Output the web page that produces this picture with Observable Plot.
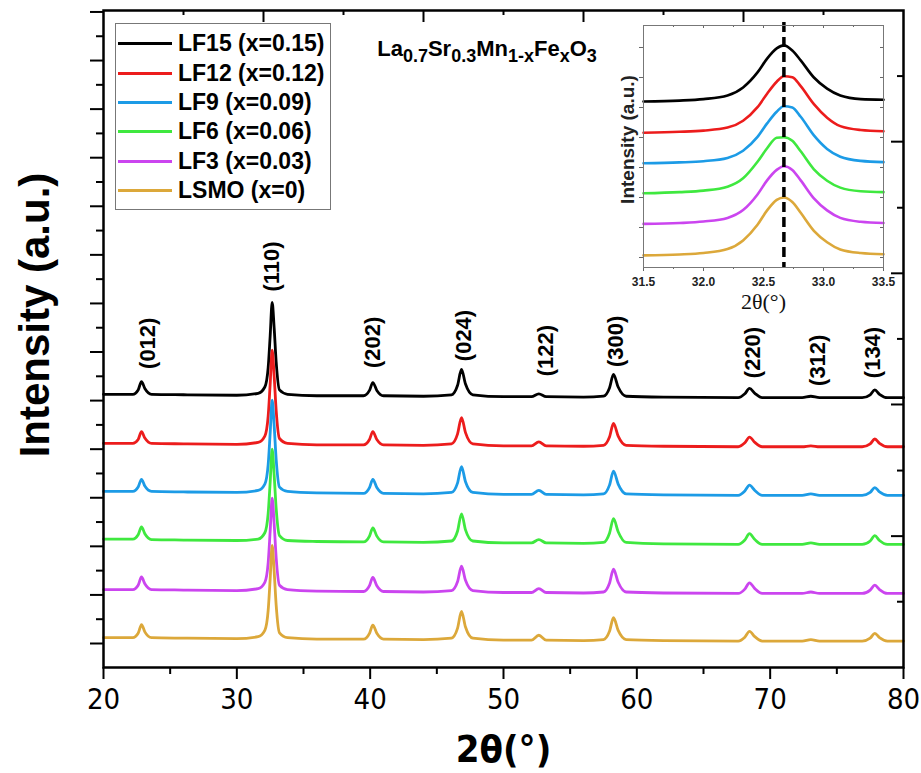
<!DOCTYPE html>
<html>
<head>
<meta charset="utf-8">
<script src="https://cdn.jsdelivr.net/npm/d3@7"></script>
<script src="https://cdn.jsdelivr.net/npm/@observablehq/plot@0.6"></script>
<style>
  body { margin: 0; background: #fff; font-family: "Liberation Sans", Arial, sans-serif; }
  #wrap { position: relative; width: 921px; height: 773px; }
  #main { position: absolute; left: 0; top: 0; }
  #inset { position: absolute; left: 600px; top: 0; }
  #legend { position: absolute; left: 115px; top: 23px; width: 216px; height: 187px; box-sizing: border-box;
            border: 1px solid #777; padding-top: 5px; background: #fff; }
  .lrow { display: flex; align-items: center; height: 29.4px; }
  .lsw { display: inline-block; width: 54px; height: 3px; margin-left: 2px; }
  .ltx { margin-left: 6px; font-size: 23px; font-weight: bold; color: #000; white-space: nowrap; }
  #formula { position: absolute; left: 356px; top: 36px; width: 262px; text-align: center;
             font-size: 22px; font-weight: bold; color: #000; white-space: nowrap; }
  #formula sub { font-size: 18px; vertical-align: -0.35em; line-height: 0; }
</style>
</head>
<body>
<div id="wrap">
  <div id="main"></div>
  <div id="inset"></div>
  <div id="legend"></div>
  <div id="formula">La<sub>0.7</sub>Sr<sub>0.3</sub>Mn<sub>1-x</sub>Fe<sub>x</sub>O<sub>3</sub></div>
</div>
<script>
// ---------------- DATA ----------------
const seriesNames = ["LF15 (x=0.15)", "LF12 (x=0.12)", "LF9 (x=0.09)", "LF6 (x=0.06)", "LF3 (x=0.03)", "LSMO (x=0)"];
const seriesColors = ["#000000", "#ec1c1c", "#1c9be6", "#3fe83f", "#cb45ef", "#dca83a"];
const seriesOffsets = [5.06, 4.05, 3.05, 2.04, 1.03, 0.05];

const twoTheta = [20, 22.2, 22.6, 22.85, 23.1, 23.6, 26, 30,
  31.6, 32.1, 32.35, 32.5, 32.65, 32.8, 32.95, 33.2, 33.8, 36,
  39.5, 39.95, 40.2, 40.5, 41, 44,
  46.1, 46.55, 46.85, 47.15, 47.7, 50,
  52.1, 52.65, 53.2, 56,
  57.5, 57.95, 58.25, 58.6, 59.2, 62,
  67.6, 68.1, 68.45, 68.85, 69.4,
  72.4, 73.05, 73.7,
  76.9, 77.5, 77.85, 78.2, 78.8, 80];

const lf15 = [0.07, 0.07, 0.16, 0.33, 0.19, 0.07, 0.06, 0.05,
  0.09, 0.22, 0.62, 1.27, 1.96, 1.43, 0.74, 0.16, 0.07, 0.04,
  0.04, 0.15, 0.31, 0.15, 0.04, 0.03,
  0.06, 0.25, 0.58, 0.28, 0.06, 0.02,
  0.02, 0.08, 0.02, 0.01,
  0.03, 0.20, 0.48, 0.22, 0.03, 0.01,
  0, 0.08, 0.19, 0.09, 0,
  0, 0.03, 0,
  0, 0.06, 0.16, 0.07, 0, 0];
const lf12 = [0.07, 0.07, 0.15, 0.31, 0.18, 0.07, 0.06, 0.05,
  0.09, 0.22, 0.63, 1.29, 1.99, 1.45, 0.75, 0.17, 0.07, 0.04,
  0.04, 0.15, 0.31, 0.15, 0.04, 0.03,
  0.06, 0.26, 0.60, 0.29, 0.06, 0.02,
  0.02, 0.10, 0.02, 0.01,
  0.03, 0.20, 0.48, 0.22, 0.03, 0.01,
  0, 0.08, 0.20, 0.09, 0,
  0, 0.02, 0,
  0, 0.06, 0.16, 0.07, 0, 0];
const lf9 = [0.08, 0.08, 0.17, 0.33, 0.19, 0.08, 0.07, 0.06,
  0.10, 0.23, 0.63, 1.28, 1.96, 1.43, 0.74, 0.17, 0.08, 0.05,
  0.04, 0.16, 0.33, 0.16, 0.04, 0.03,
  0.06, 0.25, 0.59, 0.28, 0.06, 0.02,
  0.02, 0.10, 0.02, 0.01,
  0.03, 0.21, 0.50, 0.23, 0.03, 0.01,
  0, 0.09, 0.21, 0.10, 0,
  0, 0.03, 0,
  0, 0.06, 0.16, 0.07, 0, 0];
const lf6 = [0.11, 0.11, 0.20, 0.36, 0.22, 0.10, 0.09, 0.08,
  0.11, 0.24, 0.64, 1.28, 1.96, 1.42, 0.74, 0.18, 0.08, 0.06,
  0.05, 0.17, 0.34, 0.17, 0.05, 0.04,
  0.07, 0.27, 0.63, 0.30, 0.07, 0.03,
  0.03, 0.10, 0.03, 0.02,
  0.04, 0.23, 0.53, 0.26, 0.04, 0.01,
  0, 0.09, 0.22, 0.10, 0,
  0, 0.03, 0,
  0, 0.07, 0.18, 0.08, 0, 0];
const lf3 = [0.08, 0.08, 0.17, 0.34, 0.20, 0.08, 0.07, 0.06,
  0.10, 0.23, 0.63, 1.28, 1.96, 1.43, 0.74, 0.17, 0.08, 0.05,
  0.04, 0.16, 0.33, 0.16, 0.04, 0.03,
  0.06, 0.24, 0.56, 0.27, 0.06, 0.02,
  0.02, 0.10, 0.02, 0.01,
  0.03, 0.21, 0.50, 0.23, 0.03, 0.01,
  0, 0.09, 0.22, 0.10, 0,
  0, 0.03, 0,
  0, 0.07, 0.17, 0.08, 0, 0];
const lsmo = [0.07, 0.07, 0.16, 0.34, 0.19, 0.07, 0.06, 0.05,
  0.09, 0.22, 0.63, 1.28, 1.97, 1.43, 0.74, 0.17, 0.07, 0.04,
  0.04, 0.16, 0.33, 0.16, 0.04, 0.03,
  0.06, 0.26, 0.61, 0.29, 0.06, 0.02,
  0.02, 0.12, 0.02, 0.01,
  0.03, 0.20, 0.48, 0.22, 0.03, 0.01,
  0, 0.08, 0.20, 0.09, 0,
  0, 0.03, 0,
  0, 0.06, 0.16, 0.07, 0, 0];
const seriesValues = [lf15, lf12, lf9, lf6, lf3, lsmo];

const peakNames = ["(012)", "(110)", "(202)", "(024)", "(122)", "(300)", "(220)", "(312)", "(134)"];
const peakLabelX = [23.3, 32.6, 40.2, 47.0, 53.15, 58.4, 68.7, 73.6, 77.7];
const peakLabelY = [6.18, 7.76, 6.20, 6.34, 6.03, 6.22, 5.99, 5.83, 5.99];

const xMajorTicks = [20, 30, 40, 50, 60, 70, 80];
const xMinorTicks = [25, 35, 45, 55, 65, 75];
const yMajorTicks = [0, 1, 2, 3, 4, 5, 6, 7, 8, 9, 10, 11, 12, 13];
const yMinorTicks = [0.5, 1.5, 2.5, 3.5, 4.5, 5.5, 6.5, 7.5, 8.5, 9.5, 10.5, 11.5, 12.5];
const topMajorTicks = [32, 44, 56, 68];
const topMinorTicks = [26, 38, 50, 62, 74];
const rightMajorTicks = [2.21, 4.92, 7.62, 10.33];
const rightMinorTicks = [0.86, 3.56, 6.27, 8.97, 11.68];

const xTitle = "2θ(°)";
const yTitle = "Intensity (a.u.)";

// inset
const insetTheta = [31.5, 31.8, 32.0, 32.2, 32.33, 32.45, 32.53, 32.61, 32.67, 32.74, 32.81, 32.92, 33.03, 33.14, 33.31, 33.5];
const insetLF15 = [0, 0.03, 0.08, 0.20, 0.47, 0.97, 1.43, 1.77, 1.87, 1.70, 1.37, 0.80, 0.43, 0.20, 0.08, 0.06];
const insetLF12 = [0, 0.03, 0.07, 0.17, 0.40, 0.85, 1.30, 1.70, 1.88, 1.85, 1.55, 0.95, 0.50, 0.22, 0.09, 0.05];
const insetLF9  = [0, 0.03, 0.07, 0.18, 0.42, 0.88, 1.33, 1.72, 1.90, 1.86, 1.55, 0.93, 0.48, 0.22, 0.08, 0.04];
const insetLF6  = [0, 0.04, 0.09, 0.22, 0.50, 1.05, 1.50, 1.85, 1.87, 1.75, 1.40, 0.80, 0.42, 0.19, 0.07, 0.04];
const insetLF3  = [0, 0.03, 0.08, 0.20, 0.46, 0.98, 1.45, 1.80, 1.92, 1.80, 1.45, 0.85, 0.45, 0.20, 0.07, 0.03];
const insetLSMO = [0, 0.03, 0.08, 0.21, 0.50, 1.02, 1.50, 1.85, 1.93, 1.78, 1.42, 0.82, 0.44, 0.20, 0.08, 0.04];
const insetValues = [insetLF15, insetLF12, insetLF9, insetLF6, insetLF3, insetLSMO];
const insetOffsets = [5.20, 4.16, 3.14, 2.14, 1.12, 0.07];
const insetPeakRef = [32.67];
const insetXMajor = [31.5, 32.0, 32.5, 33.0, 33.5];
const insetXMinor = [31.75, 32.25, 32.75, 33.25];
const insetYTicks = [0, 1, 2, 3, 4, 5, 6, 7];
const insetXTitle = "2θ(°)";
const insetYTitle = "Intensity (a.u.)";

// ---------------- MAIN PLOT ----------------
const sans = "'Liberation Sans', Arial, sans-serif";
const narrow = "'Liberation Sans Narrow', 'Arial Narrow', 'DejaVu Sans Condensed', sans-serif";
const FRAME_W = 800, FRAME_H = 657;

const mainLines = seriesValues.map((vals, i) =>
  Plot.line(twoTheta.map((t, j) => ({t, v: seriesOffsets[i] + vals[j]})),
    {x: "t", y: "v", stroke: seriesColors[i], strokeWidth: 2.8, curve: "monotone-x"}));

const mainPlot = Plot.plot({
  width: 921, height: 773,
  marginLeft: 103, marginRight: 18, marginTop: 10, marginBottom: 106,
  x: {domain: [20, 80]},
  y: {domain: [-0.494, 13.03]},
  style: {background: "transparent", fontFamily: sans, overflow: "visible", color: "#000"},
  marks: [
    ...mainLines,
    Plot.text(peakNames, {x: (d, i) => peakLabelX[i], y: (d, i) => peakLabelY[i], text: d => d,
      rotate: -90, fontSize: 22, fontWeight: "bold", textAnchor: "middle", lineAnchor: "middle", fill: "#000"}),
    Plot.axisX({ticks: xMajorTicks, tickSize: 12, tickPadding: 9, strokeWidth: 2, fontSize: 29,
      fontFamily: narrow, label: null, tickFormat: d => String(d)}),
    Plot.axisX({ticks: xMinorTicks, tickSize: 7, strokeWidth: 2, tickFormat: () => "", label: null}),
    Plot.axisY({ticks: yMajorTicks, tickSize: 13, strokeWidth: 2, tickFormat: () => "", label: null}),
    Plot.axisY({ticks: yMinorTicks, tickSize: 7, strokeWidth: 2, tickFormat: () => "", label: null}),
    Plot.ruleX(topMajorTicks, {strokeWidth: 2, insetBottom: FRAME_H - 12}),
    Plot.ruleX(topMinorTicks, {strokeWidth: 2, insetBottom: FRAME_H - 5}),
    Plot.ruleY(rightMajorTicks, {strokeWidth: 2, insetLeft: FRAME_W - 12}),
    Plot.ruleY(rightMinorTicks, {strokeWidth: 2, insetLeft: FRAME_W - 6}),
    Plot.frame({stroke: "#000", strokeWidth: 2.5}),
    Plot.text([xTitle], {frameAnchor: "bottom", dy: 82, fontSize: 38, fontWeight: "bold",
      fontFamily: narrow, textAnchor: "middle", lineAnchor: "middle", fill: "#000"}),
    Plot.text([yTitle], {frameAnchor: "left", dx: -68, dy: -24, rotate: -90, fontSize: 42,
      fontWeight: "bold", textAnchor: "middle", lineAnchor: "middle", fill: "#000"})
  ]
});
document.getElementById("main").appendChild(mainPlot);

// ---------------- INSET ----------------
const IN_W = 240, IN_H = 242;
const insetLines = insetValues.map((vals, i) =>
  Plot.line(insetTheta.map((t, j) => ({t, v: insetOffsets[i] + vals[j]})),
    {x: "t", y: "v", stroke: seriesColors[i], strokeWidth: 2.6, curve: "monotone-x"}));

const insetPlot = Plot.plot({
  width: 300, height: 320,
  marginLeft: 43, marginRight: 17, marginTop: 25, marginBottom: 53,
  x: {domain: [31.5, 33.5]},
  y: {domain: [-0.333, 7.733]},
  style: {background: "transparent", fontFamily: sans, overflow: "visible", color: "#222"},
  marks: [
    ...insetLines,
    Plot.ruleX(insetPeakRef, {stroke: "#000", strokeWidth: 3.5, strokeDasharray: "10,5", insetTop: -3}),
    Plot.axisX({ticks: insetXMajor, tickSize: 4, tickPadding: 6, strokeWidth: 1, stroke: "#666",
      fontSize: 12, fontWeight: "bold", label: null, tickFormat: d3.format(".1f")}),
    Plot.axisX({ticks: insetXMinor, tickSize: 2, strokeWidth: 1, stroke: "#666", tickFormat: () => "", label: null}),
    Plot.axisY({ticks: insetYTicks, tickSize: 4, strokeWidth: 1, stroke: "#666", tickFormat: () => "", label: null}),
    Plot.ruleX(insetXMajor, {stroke: "#666", strokeWidth: 1, insetBottom: IN_H - 3}),
    Plot.ruleX(insetXMinor, {stroke: "#666", strokeWidth: 1, insetBottom: IN_H - 2}),
    Plot.ruleY(insetYTicks, {stroke: "#666", strokeWidth: 1, insetLeft: IN_W - 3}),
    Plot.frame({stroke: "#777", strokeWidth: 1}),
    Plot.text([insetXTitle], {frameAnchor: "bottom", dy: 34, fontSize: 22, fontFamily: "'Liberation Serif', 'Times New Roman', serif",
      textAnchor: "middle", lineAnchor: "middle", fill: "#111"}),
    Plot.text([insetYTitle], {frameAnchor: "left", dx: -16, dy: -7, rotate: -90, fontSize: 19, fontWeight: "bold",
      textAnchor: "middle", lineAnchor: "middle", fill: "#222"})
  ]
});
document.getElementById("inset").appendChild(insetPlot);

// ---------------- LEGEND ----------------
const legend = document.getElementById("legend");
seriesNames.forEach((name, i) => {
  const row = document.createElement("div");
  row.className = "lrow";
  const sw = document.createElement("span");
  sw.className = "lsw";
  sw.style.background = seriesColors[i];
  const tx = document.createElement("span");
  tx.className = "ltx";
  tx.textContent = name;
  row.appendChild(sw);
  row.appendChild(tx);
  legend.appendChild(row);
});
</script>
</body>
</html>
